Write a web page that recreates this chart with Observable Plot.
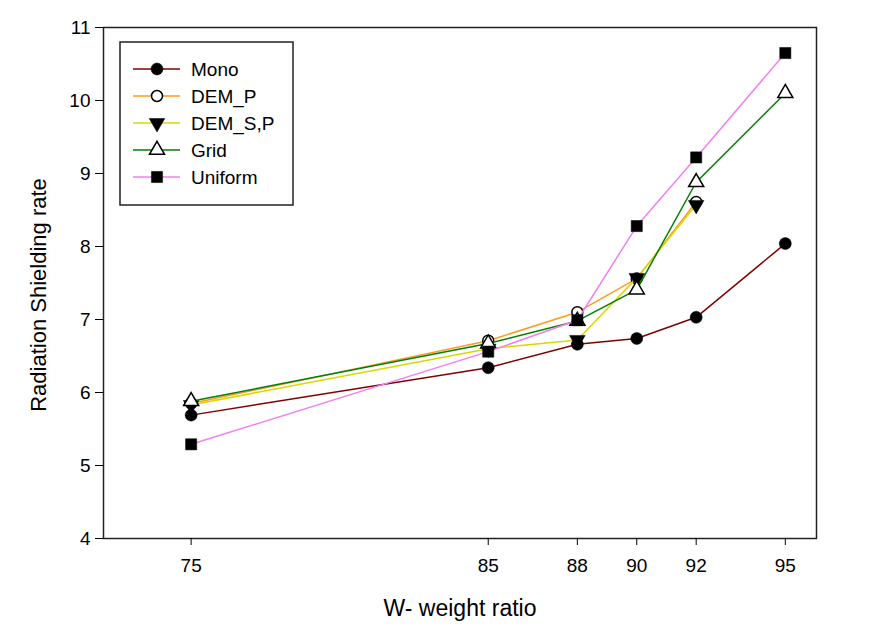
<!DOCTYPE html>
<html>
<head>
<meta charset="utf-8">
<script src="https://cdn.jsdelivr.net/npm/d3@7"></script>
<script src="https://cdn.jsdelivr.net/npm/@observablehq/plot@0.6"></script>
<style>
  html, body { margin: 0; padding: 0; background: #fff; }
  #chart { width: 885px; height: 638px; }
  svg { font-family: "Liberation Sans", Arial, sans-serif; }
</style>
</head>
<body>
<div id="chart"></div>
<script>
// ---- data ----
const xValues = [75, 85, 88, 90, 92, 95];
const seriesNames = ["Mono", "DEM_P", "DEM_S,P", "Grid", "Uniform"];
const mono    = [5.69, 6.34, 6.66, 6.74, 7.03, 8.04];
const demP    = [5.85, 6.71, 7.10, 7.56, 8.61];
const demSP   = [5.83, 6.60, 6.72, 7.57, 8.57];
const grid    = [5.88, 6.67, 6.98, 7.41, 8.88, 10.10];
const uniform = [5.29, 6.56, 6.99, 8.28, 9.22, 10.65];
const yTicks = [4, 5, 6, 7, 8, 9, 10, 11];
const xTicks = [75, 85, 88, 90, 92, 95];

// ---- styles ----
const triangleDown = {
  draw(context, size) {
    const s3 = Math.sqrt(3);
    const y = -Math.sqrt(size / (s3 * 3));
    context.moveTo(0, -y * 2);
    context.lineTo(-s3 * y, y);
    context.lineTo(s3 * y, y);
    context.closePath();
  }
};
const styles = {
  "Mono":    {color: "#800000", symbol: d3.symbolCircle,   fill: "black", r: 6},
  "DEM_P":   {color: "#FF9A20", symbol: d3.symbolCircle,   fill: "white", r: 5.5},
  "DEM_S,P": {color: "#D8D800", symbol: triangleDown,      fill: "black", r: 5.8},
  "Grid":    {color: "#008000", symbol: d3.symbolTriangle, fill: "white", r: 5.6},
  "Uniform": {color: "#F080F0", symbol: d3.symbolSquare,   fill: "black", r: 6.3}
};
const seriesValues = [mono, demP, demSP, grid, uniform];
const data = seriesNames.map((name, i) =>
  seriesValues[i].map((v, j) => ({series: name, x: xValues[j], y: v}))
);

const marks = [];
data.forEach((rows, i) => {
  const st = styles[seriesNames[i]];
  marks.push(Plot.line(rows, {x: "x", y: "y", stroke: st.color, strokeWidth: 1.5}));
  marks.push(Plot.dot(rows, {x: "x", y: "y", symbol: () => st.symbol, r: st.r,
    fill: st.fill, stroke: "black", strokeWidth: st.fill === "white" ? 1.5 : 0.5}));
});

const chart = Plot.plot({
  width: 885,
  height: 638,
  marginLeft: 103,
  marginRight: 69,
  marginTop: 27,
  marginBottom: 100,
  style: {fontFamily: "'Liberation Sans', Arial, sans-serif", color: "black"},
  x: {domain: [72.05, 96.05], ticks: xTicks},
  y: {domain: [4, 11], ticks: yTicks},
  symbol: {type: "identity"},
  marks: [
    Plot.frame({stroke: "#222", strokeWidth: 1.5}),
    Plot.axisX({ticks: xTicks, tickSize: 7, tickPadding: 13, label: null, tickFormat: d => String(d)}),
    Plot.axisY({ticks: yTicks, tickSize: 8, tickPadding: 5, label: null, tickFormat: d => String(d)}),
    ...marks,
    Plot.text(["Radiation Shielding rate"], {frameAnchor: "left", textAnchor: "middle", dx: -65, dy: 12, rotate: -90, fontSize: 22, fill: "black"}),
    Plot.text(["W- weight ratio"], {frameAnchor: "bottom", dy: 77, fontSize: 23, fill: "black"})
  ]
});
document.getElementById("chart").appendChild(chart);

const svg = d3.select(chart);
svg.selectAll('g[aria-label="x-axis tick label"] text, g[aria-label="y-axis tick label"] text')
  .style("font-size", "19px");

// ---- legend ----
const lg = svg.append("g").attr("text-anchor", "start");
lg.append("rect").attr("x", 120).attr("y", 42).attr("width", 173).attr("height", 163)
  .attr("fill", "white").attr("stroke", "#222").attr("stroke-width", 1.5);
seriesNames.forEach((name, i) => {
  const st = styles[name];
  const cy = 69 + i * 27;
  lg.append("line").attr("x1", 133).attr("x2", 180).attr("y1", cy).attr("y2", cy)
    .attr("stroke", st.color).attr("stroke-width", 1.5);
  lg.append("path")
    .attr("d", d3.symbol(st.symbol, Math.PI * st.r * st.r)())
    .attr("transform", `translate(157,${cy})`)
    .attr("fill", st.fill).attr("stroke", "black").attr("stroke-width", st.fill === "white" ? 1.5 : 0.5);
  lg.append("text").attr("x", 191).attr("y", cy).attr("dy", "0.35em")
    .attr("text-anchor", "start")
    .style("font-size", "19px").attr("fill", "black").text(name);
});
</script>
</body>
</html>
